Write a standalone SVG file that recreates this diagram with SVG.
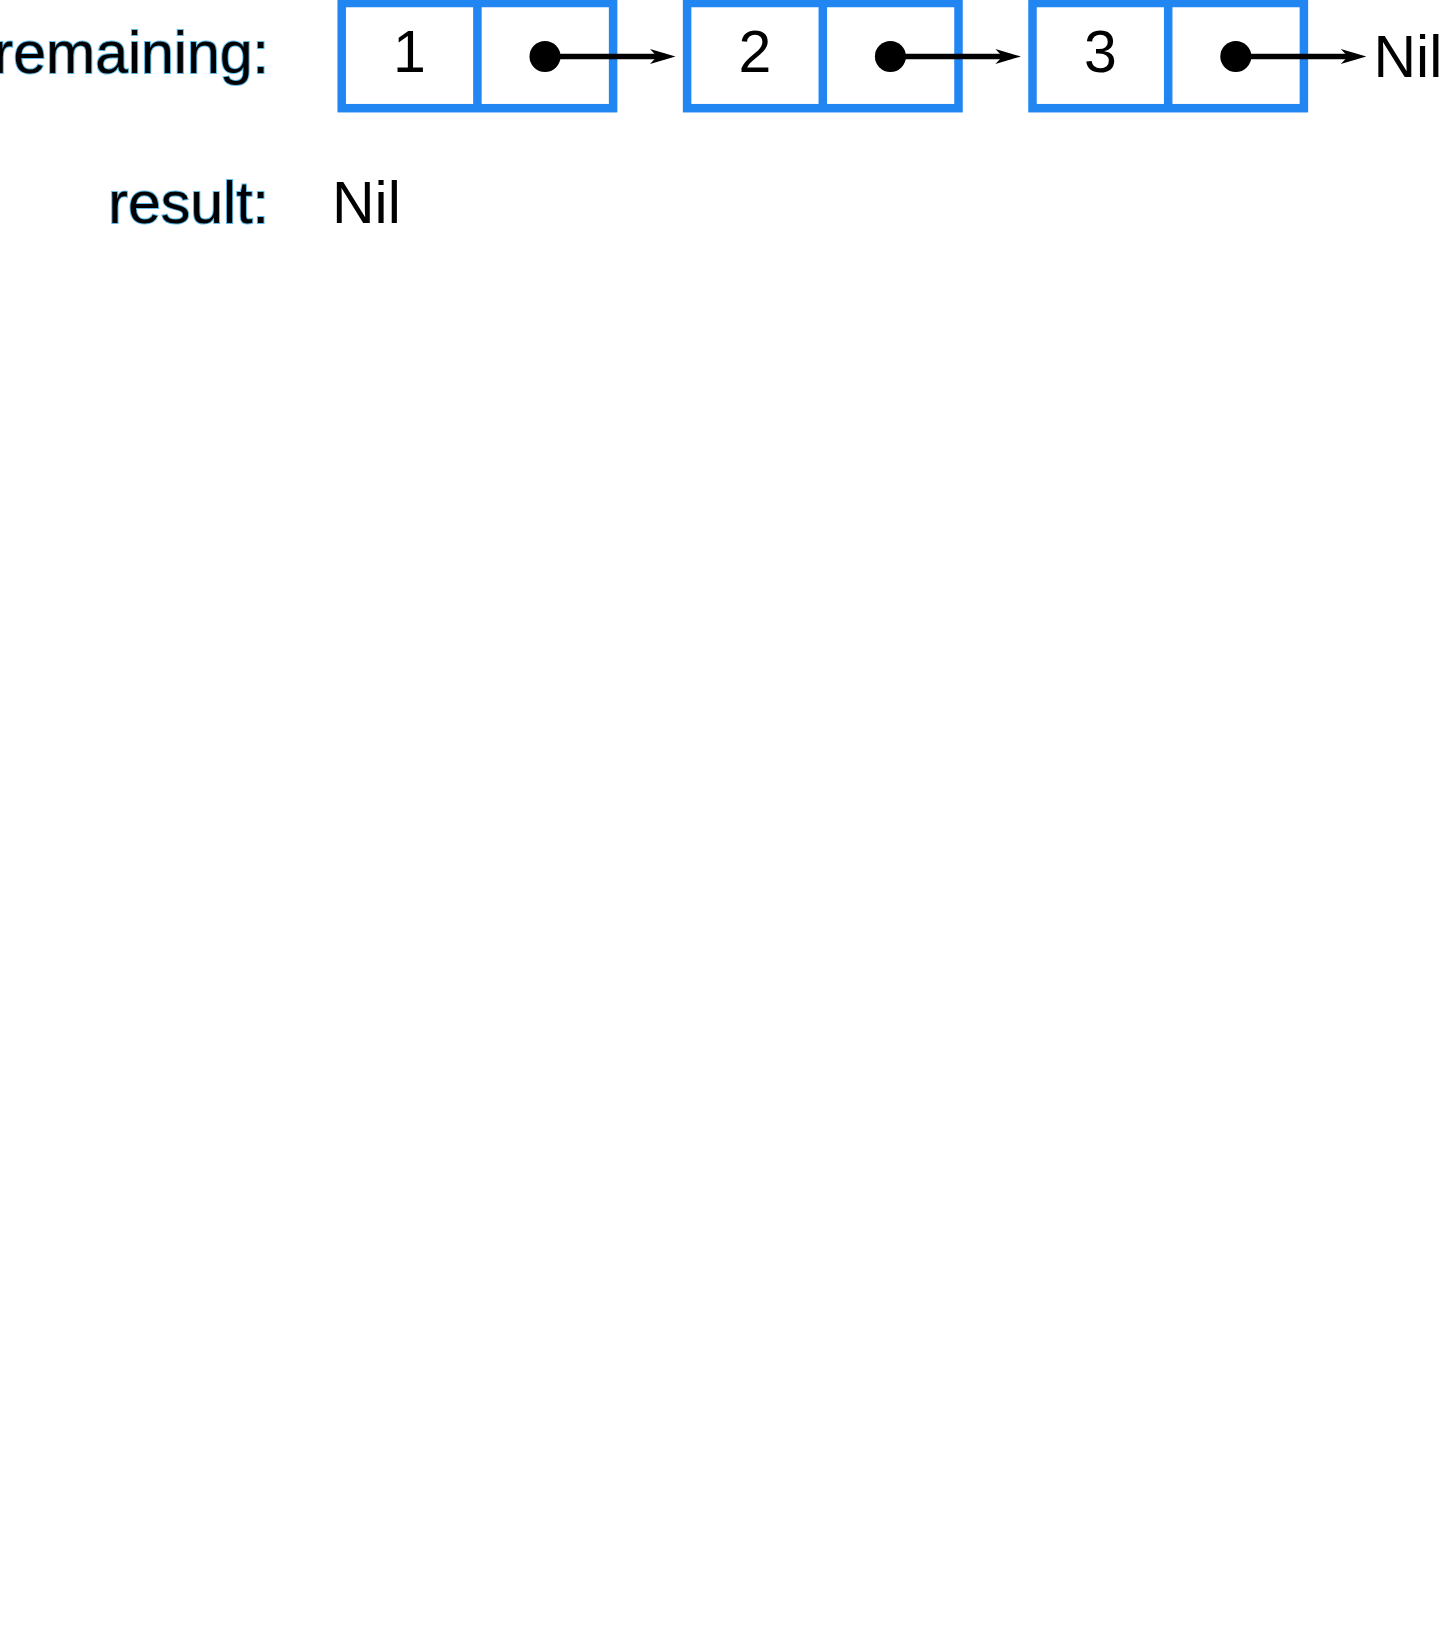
<svg xmlns="http://www.w3.org/2000/svg" width="1443" height="1639" viewBox="0 0 1443 1639">
<style>
.cell{fill:#fff;stroke:#2185F2;stroke-width:8.5}
.div{stroke:#2185F2;stroke-width:8.5}
.num{font-family:"Liberation Sans",Arial,sans-serif;font-size:59px;fill:#000;text-anchor:middle}
.nil{font-family:"Liberation Sans",Arial,sans-serif;font-size:59px;fill:#000}
.lbl{font-family:"Liberation Sans",Arial,sans-serif;font-size:59px;fill:#000;text-anchor:end;stroke:#62BBEA;stroke-width:2;paint-order:stroke}
.ptr{stroke:#000;stroke-width:5.5;fill:none}
</style>
<defs>
<marker id="dot" markerUnits="userSpaceOnUse" markerWidth="40" markerHeight="40" viewBox="-20 -20 40 40" refX="0" refY="0" orient="auto" overflow="visible">
<circle cx="0" cy="0" r="15.5" fill="#000"/>
</marker>
<marker id="arr" markerUnits="userSpaceOnUse" markerWidth="40" markerHeight="40" viewBox="-30 -20 40 40" refX="0" refY="0" orient="auto" overflow="visible">
<path d="M-15,-7.5 L10.5,0 L-15,7.5 L-8,0 Z" fill="#000"/>
</marker>
</defs>
<rect width="1443" height="1639" fill="#fff"/>
<g id="label-remaining"><text class="lbl" x="269" y="73">remaining:</text></g>
<g id="label-result"><text class="lbl" x="269" y="223">result:</text></g>
<g id="node1">
<rect class="cell" x="341.7" y="3" width="271.4" height="105.2"/>
<line class="div" x1="477.4" y1="3" x2="477.4" y2="108.2"/>
<text class="num" x="409.5" y="72">1</text>
</g>
<g id="node2">
<rect class="cell" x="687.1" y="3" width="271.4" height="105.2"/>
<line class="div" x1="822.8" y1="3" x2="822.8" y2="108.2"/>
<text class="num" x="754.9" y="72">2</text>
</g>
<g id="node3">
<rect class="cell" x="1032.5" y="3" width="271.4" height="105.2"/>
<line class="div" x1="1168.2" y1="3" x2="1168.2" y2="108.2"/>
<text class="num" x="1100.3" y="72">3</text>
</g>
<g id="nil-end"><text class="nil" x="1373.5" y="77">Nil</text></g>
<g id="nil-result"><text class="nil" x="332" y="223">Nil</text></g>
<g id="connectors">
<line class="ptr" x1="545" y1="56.5" x2="665" y2="56.5" marker-start="url(#dot)" marker-end="url(#arr)"/>
<line class="ptr" x1="890.4" y1="56.5" x2="1010.4" y2="56.5" marker-start="url(#dot)" marker-end="url(#arr)"/>
<line class="ptr" x1="1235.8" y1="56.5" x2="1355.8" y2="56.5" marker-start="url(#dot)" marker-end="url(#arr)"/>
</g>
</svg>
